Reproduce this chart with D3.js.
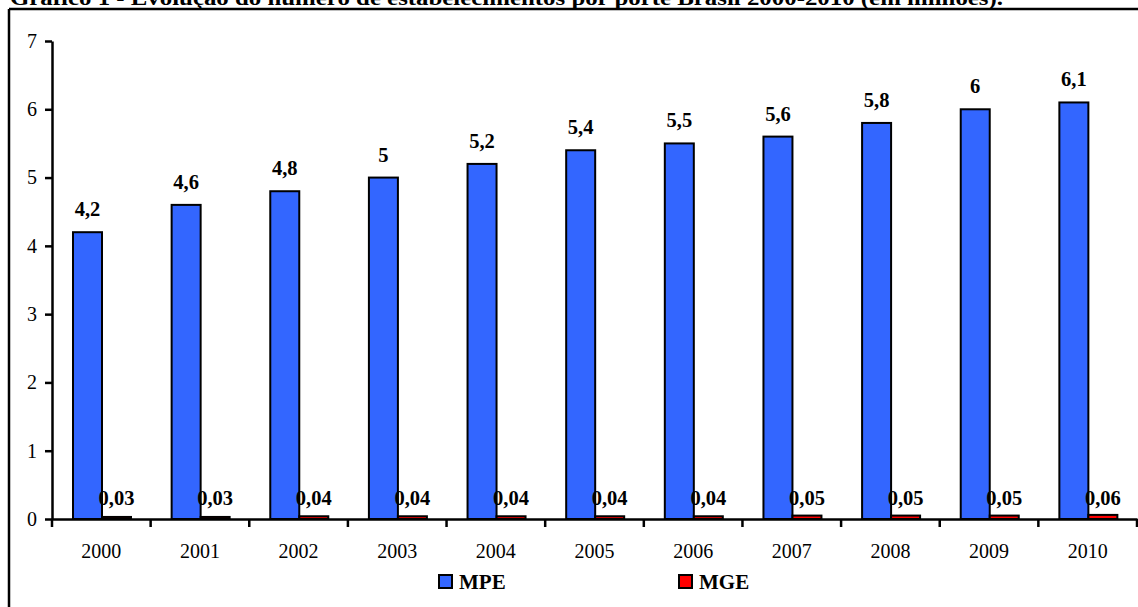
<!DOCTYPE html>
<html>
<head>
<meta charset="utf-8">
<script src="https://cdn.jsdelivr.net/npm/d3@7"></script>
<style>
  html, body { margin: 0; padding: 0; background: #fff; }
  svg { display: block; }
</style>
</head>
<body>
<svg id="chart" width="1138" height="607"></svg>
<script>
// Número de estabelecimentos por porte, Brasil 2000-2010 (milhões)
const years = ["2000","2001","2002","2003","2004","2005","2006","2007","2008","2009","2010"];
const mpe = [4.2, 4.6, 4.8, 5, 5.2, 5.4, 5.5, 5.6, 5.8, 6, 6.1];
const mge = [0.03, 0.03, 0.04, 0.04, 0.04, 0.04, 0.04, 0.05, 0.05, 0.05, 0.06];
const seriesNames = ["MPE", "MGE"];
const seriesColors = ["#3366FF", "#FF0000"];
const yTicks = [0, 1, 2, 3, 4, 5, 6, 7];
const title = "Gráfico 1 - Evolução do número de estabelecimentos por porte Brasil 2000-2010 (em milhões).";

const FONT = "'Liberation Serif', 'Times New Roman', Times, serif";
const svg = d3.select("#chart").style("font-family", FONT);
const fmt = v => String(v).replace(".", ",");

// Plot area
const plotLeft = 52, plotRight = 1137, plotTop = 41, plotBottom = 519;

const x = d3.scaleBand().domain(years).range([plotLeft, plotRight]).paddingInner(0).paddingOuter(0);
const x1 = d3.scaleBand().domain(seriesNames).range([21, 79]);
const y = d3.scaleLinear().domain([0, 7]).range([plotBottom, plotTop]);

// Title (partially above the top edge)
svg.append("text")
  .style("font-family", FONT)
  .attr("x", 10).attr("y", 5)
  .attr("font-weight", "bold").attr("font-size", 21)
  .attr("textLength", 993).attr("lengthAdjust", "spacingAndGlyphs")
  .text(title);

// Frame around the chart
svg.append("line").attr("x1", 9).attr("x2", 1138).attr("y1", 9).attr("y2", 9)
  .attr("stroke", "#000").attr("stroke-width", 2.5);
svg.append("line").attr("x1", 9).attr("x2", 9).attr("y1", 9).attr("y2", 607)
  .attr("stroke", "#000").attr("stroke-width", 2.5);

// Bars
const rows = years.map((yr, i) => ({ year: yr, values: [mpe[i], mge[i]] }));
const groups = svg.append("g").selectAll("g").data(rows).join("g")
  .attr("transform", d => `translate(${x(d.year)},0)`);

groups.selectAll("rect").data(d => d.values.map((v, k) => ({ v, k })))
  .join("rect")
  .attr("x", d => x1(seriesNames[d.k]))
  .attr("width", x1.bandwidth())
  .attr("y", d => y(d.v))
  .attr("height", d => plotBottom - y(d.v))
  .attr("fill", d => seriesColors[d.k])
  .attr("stroke", "#000").attr("stroke-width", 2);

// Value labels
groups.selectAll("text.val").data(d => d.values.map((v, k) => ({ v, k })))
  .join("text").attr("class", "val")
  .style("font-family", FONT)
  .attr("x", d => x1(seriesNames[d.k]) + x1.bandwidth() / 2)
  .attr("y", d => d.k === 0 ? y(d.v) - 16 : plotBottom - 14)
  .attr("text-anchor", "middle")
  .attr("font-weight", "bold").attr("font-size", 20.5)
  .text(d => fmt(d.v));

// Y axis
const yAxis = svg.append("g").attr("transform", `translate(${plotLeft},0)`)
  .call(d3.axisLeft(y).tickValues(yTicks).tickSize(7).tickSizeOuter(0).tickPadding(8).tickFormat(d3.format("d")));
yAxis.select(".domain").attr("stroke", "#000").attr("stroke-width", 2.5);
yAxis.selectAll(".tick line").attr("stroke", "#000").attr("stroke-width", 2.5);
yAxis.selectAll(".tick text").style("font-family", FONT).attr("font-size", 20).attr("fill", "#000");

// X axis
const xAxis = svg.append("g").attr("transform", `translate(0,${plotBottom})`)
  .call(d3.axisBottom(x).tickSize(0).tickPadding(25));
xAxis.select(".domain").attr("stroke", "#000").attr("stroke-width", 2.5);
xAxis.selectAll(".tick text").style("font-family", FONT).attr("font-size", 20).attr("fill", "#000");
// Category separators
const bounds = years.map(yr => x(yr)).concat([plotRight]);
svg.append("g").selectAll("line").data(bounds).join("line")
  .attr("x1", d => d).attr("x2", d => d)
  .attr("y1", plotBottom).attr("y2", plotBottom + 8)
  .attr("stroke", "#000").attr("stroke-width", 2.5);

// Legend
const legendX = [439, 679];
const legend = svg.append("g").selectAll("g").data(seriesNames).join("g")
  .attr("transform", (d, i) => `translate(${legendX[i]},575)`);
legend.append("rect").attr("width", 13).attr("height", 13)
  .attr("fill", (d, i) => seriesColors[i]).attr("stroke", "#000").attr("stroke-width", 2);
legend.append("text").attr("x", 20).attr("y", 14)
  .style("font-family", FONT)
  .attr("font-weight", "bold").attr("font-size", 21)
  .text(d => d);
</script>
</body>
</html>
